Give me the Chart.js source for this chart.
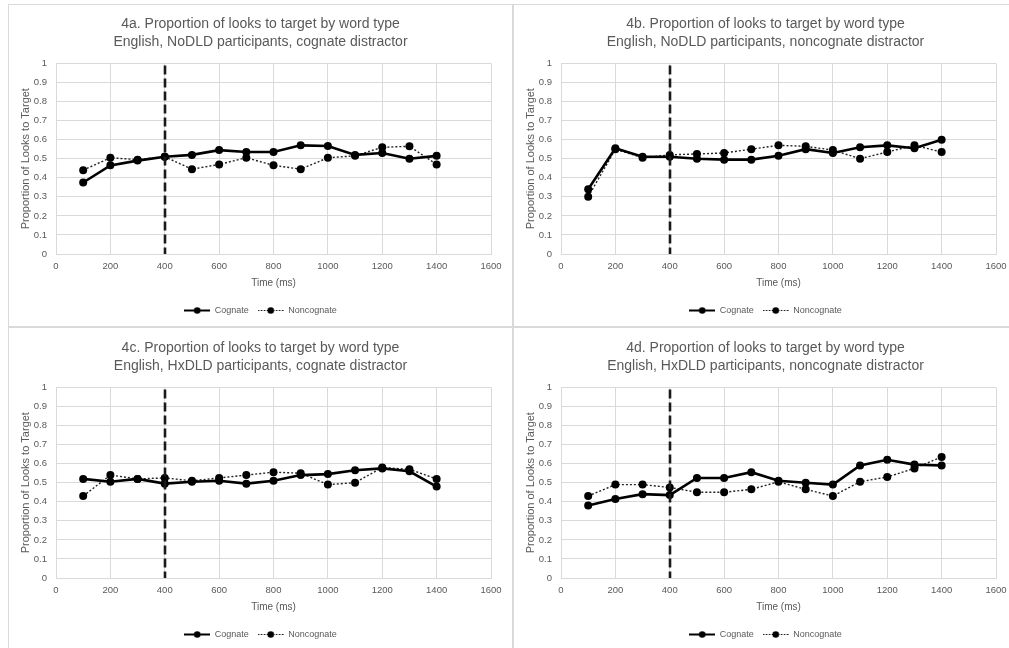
<!DOCTYPE html>
<html>
<head>
<meta charset="utf-8">
<script src="https://cdn.jsdelivr.net/npm/chart.js@4.4.1/dist/chart.umd.min.js"></script>
<style>
    html, body { margin: 0; padding: 0; background: #fff; }
    body { width: 1009px; height: 648px; position: relative; overflow: hidden; }
    .panel { position: absolute; box-sizing: content-box; height: 322px; width: 503px; }
    #pa { left: 8px; top: 4px; border-left: 1px solid #d9d9d9; border-top: 1px solid #d9d9d9; }
    #pb { left: 512px; top: 4px; border-left: 2px solid #d9d9d9; border-top: 1px solid #d9d9d9; }
    #pc { left: 8px; top: 326px; padding-top: 1px; border-left: 1px solid #d9d9d9; border-top: 2px solid #d9d9d9; }
    #pd { left: 512px; top: 326px; padding-top: 1px; border-left: 2px solid #d9d9d9; border-top: 2px solid #d9d9d9; }
    .panel canvas { display: block; }
</style>
</head>
<body>
<div class="panel" id="pa"><canvas id="chartA"></canvas></div>
<div class="panel" id="pb"><canvas id="chartB"></canvas></div>
<div class="panel" id="pc"><canvas id="chartC"></canvas></div>
<div class="panel" id="pd"><canvas id="chartD"></canvas></div>
<script>
// ==================== DATA ====================
const timesMs = [100, 200, 300, 400, 500, 600, 700, 800, 900, 1000, 1100, 1200, 1300, 1400];
const seriesNames = ['Cognate', 'Noncognate'];
const xTicksMax = 1600;
const xTickStep = 200;
const yTickStep = 0.1;
const onsetMs = 400;

// 4a. NoDLD, cognate distractor
const cognateA    = [0.375, 0.465, 0.49, 0.51, 0.52, 0.545, 0.535, 0.535, 0.57, 0.567, 0.52, 0.53, 0.50, 0.515];
const noncognateA = [0.44, 0.505, 0.495, 0.51, 0.445, 0.47, 0.505, 0.465, 0.445, 0.505, 0.515, 0.56, 0.565, 0.47];
// 4b. NoDLD, noncognate distractor
const cognateB    = [0.34, 0.555, 0.51, 0.51, 0.50, 0.495, 0.495, 0.515, 0.55, 0.53, 0.56, 0.57, 0.555, 0.60];
const noncognateB = [0.30, 0.55, 0.505, 0.52, 0.525, 0.53, 0.55, 0.57, 0.565, 0.545, 0.50, 0.535, 0.57, 0.535];
// 4c. HxDLD, cognate distractor
const cognateC    = [0.52, 0.505, 0.52, 0.495, 0.505, 0.51, 0.495, 0.51, 0.54, 0.545, 0.565, 0.575, 0.56, 0.48];
const noncognateC = [0.43, 0.54, 0.52, 0.525, 0.51, 0.525, 0.54, 0.555, 0.55, 0.49, 0.50, 0.58, 0.57, 0.52];
// 4d. HxDLD, noncognate distractor
const cognateD    = [0.38, 0.415, 0.44, 0.435, 0.525, 0.525, 0.555, 0.51, 0.50, 0.49, 0.59, 0.62, 0.595, 0.59];
const noncognateD = [0.43, 0.49, 0.49, 0.475, 0.45, 0.45, 0.465, 0.505, 0.465, 0.43, 0.505, 0.53, 0.575, 0.635];

const titleA = ['4a. Proportion of looks to target by word type', 'English, NoDLD participants, cognate distractor'];
const titleB = ['4b. Proportion of looks to target by word type', 'English, NoDLD participants, noncognate distractor'];
const titleC = ['4c. Proportion of looks to target by word type', 'English, HxDLD participants, cognate distractor'];
const titleD = ['4d. Proportion of looks to target by word type', 'English, HxDLD participants, noncognate distractor'];

// ==================== STYLE ====================
const FONT = "'Liberation Sans', Arial, sans-serif";
const TEXT_GREY = '#595959';
const GRID_GREY = '#d9d9d9';

// legend swatch: short line with a dot in the middle
function makeSwatch(dashed) {
    const c = document.createElement('canvas');
    c.width = 26; c.height = 9;
    const g = c.getContext('2d');
    g.strokeStyle = '#000';
    g.lineWidth = dashed ? 1.2 : 2;
    if (dashed) g.setLineDash([1.5, 1.5]);
    g.beginPath(); g.moveTo(0, 4.5); g.lineTo(26, 4.5); g.stroke();
    g.fillStyle = '#000';
    g.beginPath(); g.arc(13, 4.5, 3.3, 0, Math.PI * 2); g.fill();
    return c;
}
const swatchSolid = makeSwatch(false);
const swatchDotted = makeSwatch(true);

// dashed vertical marker at word onset
const onsetLine = {
    id: 'onsetLine',
    afterDatasetsDraw(chart) {
        const { ctx, chartArea, scales } = chart;
        const x = Math.round(scales.x.getPixelForValue(onsetMs));
        ctx.save();
        ctx.strokeStyle = '#1a1a1a';
        ctx.lineWidth = 2.6;
        ctx.setLineDash([9, 4]);
        ctx.beginPath();
        ctx.moveTo(x, chartArea.top + 2);
        ctx.lineTo(x, chartArea.bottom);
        ctx.stroke();
        ctx.restore();
    }
};

function buildChart(canvasId, title, cognate, noncognate) {
    const toPoints = arr => arr.map((v, i) => ({ x: timesMs[i], y: v }));
    const ctx = document.getElementById(canvasId).getContext('2d');
    return new Chart(ctx, {
        type: 'line',
        data: {
            datasets: [{
                label: seriesNames[0],
                data: toPoints(cognate),
                borderColor: '#000',
                backgroundColor: '#000',
                borderWidth: 2.6,
                pointRadius: 4,
                pointBorderWidth: 0,
                tension: 0
            }, {
                label: seriesNames[1],
                data: toPoints(noncognate),
                borderColor: '#222',
                backgroundColor: '#000',
                borderWidth: 1.4,
                borderDash: [2, 2],
                pointRadius: 4,
                pointBorderWidth: 0,
                tension: 0
            }]
        },
        options: {
            responsive: true,
            maintainAspectRatio: false,
            animation: false,
            // symmetric side padding so title and legend centre on the panel
            layout: { padding: { top: 6, right: 21, bottom: 2, left: 21 } },
            plugins: {
                title: {
                    display: true,
                    text: title,
                    color: TEXT_GREY,
                    font: { family: FONT, size: 14, weight: 'normal', lineHeight: 1.3 },
                    padding: { top: 4, bottom: 12 }
                },
                legend: {
                    position: 'bottom',
                    labels: {
                        color: TEXT_GREY,
                        font: { family: FONT, size: 9 },
                        usePointStyle: true,
                        pointStyleWidth: 26,
                        boxHeight: 9,
                        padding: 9,
                        generateLabels(chart) {
                            return chart.data.datasets.map((ds, i) => ({
                                text: ds.label,
                                pointStyle: i === 0 ? swatchSolid : swatchDotted,
                                fontColor: TEXT_GREY,
                                lineWidth: 0,
                                hidden: false,
                                datasetIndex: i
                            }));
                        }
                    }
                },
                tooltip: { enabled: false }
            },
            scales: {
                x: {
                    type: 'linear',
                    min: 0,
                    max: xTicksMax,
                    afterFit(scale) { scale.height = 43; },
                    grid: { color: GRID_GREY, drawTicks: false },
                    border: { color: GRID_GREY },
                    ticks: {
                        stepSize: xTickStep,
                        color: TEXT_GREY,
                        font: { family: FONT, size: 9.5 },
                        padding: 7,
                        maxRotation: 0,
                        callback: v => String(v)
                    },
                    title: {
                        display: true,
                        text: 'Time (ms)',
                        color: TEXT_GREY,
                        font: { family: FONT, size: 10 },
                        padding: { top: 0, bottom: 8 }
                    }
                },
                y: {
                    min: 0,
                    max: 1,
                    afterFit(scale) { scale.width = 26; },
                    grid: { color: GRID_GREY, drawTicks: false },
                    border: { color: GRID_GREY },
                    ticks: {
                        stepSize: yTickStep,
                        color: TEXT_GREY,
                        font: { family: FONT, size: 9.5 },
                        padding: 9,
                        callback: v => String(Math.round(v * 10) / 10)
                    },
                    title: {
                        display: true,
                        text: 'Proportion of Looks to Target',
                        color: TEXT_GREY,
                        font: { family: FONT, size: 11 },
                        padding: { top: -11, bottom: 0 }
                    }
                }
            }
        },
        plugins: [onsetLine]
    });
}

buildChart('chartA', titleA, cognateA, noncognateA);
buildChart('chartB', titleB, cognateB, noncognateB);
buildChart('chartC', titleC, cognateC, noncognateC);
buildChart('chartD', titleD, cognateD, noncognateD);
</script>
</body>
</html>
